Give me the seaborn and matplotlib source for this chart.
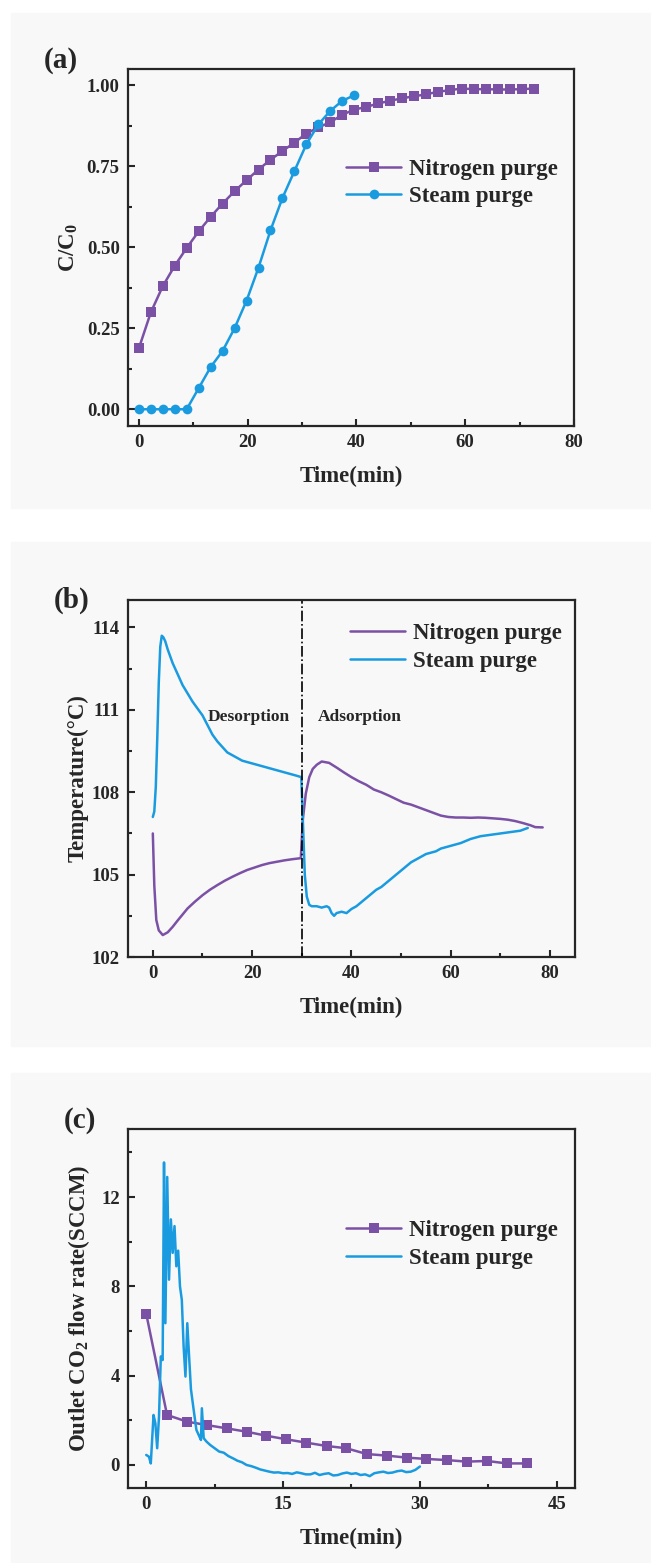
import matplotlib

matplotlib.use("Agg")
import matplotlib.pyplot as plt
import seaborn as sns
from matplotlib.patches import Rectangle
from matplotlib.ticker import AutoMinorLocator

PURPLE = "#7b51a6"
BLUE = "#1a9be0"
N2_LABEL = "Nitrogen purge"
STEAM_LABEL = "Steam purge"

# (a) breakthrough curves
a_n2_time = [0, 2.2, 4.4, 6.6, 8.8, 11, 13.2, 15.4, 17.6, 19.8, 22, 24.2, 26.4, 28.6, 30.8,
             33, 35.2, 37.4, 39.6, 41.8, 44, 46.2, 48.4, 50.6, 52.8, 55, 57.2, 59.4, 61.6,
             63.8, 66, 68.2, 70.4, 72.6]
a_n2_conc = [0.188, 0.299, 0.380, 0.443, 0.498, 0.549, 0.594, 0.635, 0.673, 0.707, 0.740,
             0.770, 0.797, 0.823, 0.851, 0.870, 0.886, 0.909, 0.925, 0.933, 0.944, 0.952,
             0.960, 0.966, 0.972, 0.980, 0.985, 0.990, 0.988, 0.988, 0.987, 0.987, 0.988, 0.990]
a_steam_time = [0, 2.2, 4.4, 6.6, 8.8, 11, 13.2, 15.4, 17.6, 19.8, 22, 24.2, 26.4, 28.6,
                30.8, 33, 35.2, 37.4, 39.6]
a_steam_conc = [0, 0, 0, 0, 0, 0.065, 0.13, 0.18, 0.25, 0.335, 0.437, 0.552, 0.652, 0.735,
                0.818, 0.879, 0.921, 0.952, 0.969]

# (b) bed temperature
b_n2_time = [0, 0.3, 0.7, 1.2, 2, 3, 4, 5, 6, 7, 8.5, 10, 11.5, 13, 14.5, 16, 17.5, 19, 20.5,
             22, 23.5, 25, 26.5, 28, 29.8, 30.2, 30.8, 31.5, 32.2, 33, 34, 35.5, 37, 38.5, 40,
             41.5, 43, 44.5, 46, 47.5, 49, 50.5, 52, 53.5, 55, 56.5, 58, 59.5, 61, 62.5, 64,
             65.5, 67, 68.5, 70, 71.5, 73, 74.5, 76, 77, 78.5]
b_n2_temp = [106.5, 104.6, 103.35, 102.97, 102.8, 102.9, 103.1, 103.33, 103.55, 103.77,
             104.02, 104.25, 104.45, 104.62, 104.78, 104.92, 105.05, 105.17, 105.26, 105.35,
             105.42, 105.47, 105.52, 105.56, 105.6, 107.0, 107.95, 108.55, 108.85, 109.0,
             109.12, 109.07, 108.9, 108.72, 108.55, 108.4, 108.27, 108.1, 108.0, 107.88,
             107.75, 107.62, 107.55, 107.45, 107.35, 107.25, 107.15, 107.1, 107.08, 107.08,
             107.07, 107.08, 107.07, 107.05, 107.03, 107.0, 106.95, 106.88, 106.8, 106.73, 106.72]
b_steam_time = [0, 0.3, 0.6, 0.9, 1.2, 1.5, 1.8, 2.1, 2.5, 3, 4, 5, 6, 7, 8, 9, 10, 11, 12,
                13, 14, 15, 16, 17, 18, 19, 20, 21, 22, 23, 24, 25, 26, 27, 28, 29, 29.9, 30.3,
                30.6, 31, 31.5, 32, 33, 34, 35, 35.5, 36, 36.5, 37, 38, 39, 40, 41, 42, 43, 44,
                45, 46, 47, 48, 49, 50, 51, 52, 53, 54, 55, 56, 57, 58, 59, 60, 62, 64, 66,
                68, 70, 72, 74, 75.5]
b_steam_temp = [107.1, 107.3, 108.2, 110.0, 112.0, 113.3, 113.7, 113.65, 113.5, 113.2,
                112.7, 112.3, 111.9, 111.6, 111.3, 111.05, 110.8, 110.45, 110.1, 109.85,
                109.65, 109.45, 109.35, 109.25, 109.15, 109.1, 109.05, 109.0, 108.95, 108.9,
                108.85, 108.8, 108.75, 108.7, 108.65, 108.6, 108.55, 106.5, 105.0, 104.2,
                103.9, 103.85, 103.85, 103.8, 103.85, 103.8, 103.6, 103.5, 103.6, 103.65,
                103.6, 103.75, 103.85, 104.0, 104.15, 104.3, 104.45, 104.55, 104.7, 104.85,
                105.0, 105.15, 105.3, 105.45, 105.55, 105.65, 105.75, 105.8, 105.85, 105.95,
                106.0, 106.05, 106.15, 106.3, 106.4, 106.45, 106.5, 106.55, 106.6, 106.7]

# (c) outlet CO2 flow
c_n2_time = [0, 2.28, 4.48, 6.62, 8.82, 11.0, 13.16, 15.35, 17.54, 19.78, 21.93, 24.17,
             26.36, 28.55, 30.7, 32.94, 35.13, 37.37, 39.5, 41.7]
c_n2_flow = [6.77, 2.24, 1.94, 1.79, 1.64, 1.49, 1.31, 1.15, 1.0, 0.85, 0.75, 0.49, 0.42,
             0.33, 0.27, 0.22, 0.15, 0.18, 0.07, 0.07]
c_steam_time = [0, 0.3, 0.5, 0.8, 1.0, 1.2, 1.4, 1.6, 1.8, 1.95, 2.1, 2.3, 2.5, 2.7, 2.9,
                3.1, 3.3, 3.5, 3.7, 3.9, 4.1, 4.3, 4.5, 4.7, 4.9, 5.2, 5.5, 5.8, 6.0, 6.1,
                6.3, 6.6, 7.0, 7.5, 8.0, 8.5, 9.0, 9.5, 10, 10.5, 11, 11.5, 12, 12.5, 13,
                13.5, 14, 14.5, 15, 15.5, 16, 16.5, 17, 17.5, 18, 18.5, 19, 19.5, 20, 20.5,
                21, 21.5, 22, 22.5, 23, 23.5, 24, 24.5, 25, 25.5, 26, 26.5, 27, 27.5, 28,
                28.5, 29, 29.5, 30]
c_steam_flow = [0.45, 0.37, 0.07, 2.24, 1.87, 0.75, 2.17, 4.86, 4.7, 13.55, 6.35, 12.9, 8.3,
                11.0, 9.5, 10.7, 8.9, 9.6, 8.0, 7.4, 5.3, 3.96, 6.35, 4.86, 3.4, 2.47, 1.57,
                1.3, 1.12, 2.54, 1.2, 1.05, 0.9, 0.75, 0.6, 0.55, 0.4, 0.3, 0.19, 0.12, 0.0,
                -0.05, -0.12, -0.2, -0.25, -0.3, -0.34, -0.33, -0.37, -0.36, -0.4, -0.33,
                -0.37, -0.42, -0.42, -0.35, -0.45, -0.4, -0.37, -0.47, -0.45, -0.38, -0.34,
                -0.4, -0.37, -0.45, -0.42, -0.5, -0.37, -0.33, -0.3, -0.36, -0.34, -0.28,
                -0.25, -0.32, -0.3, -0.22, -0.07]


def style_axes(ax, xlim, ylim, xticks, yticks, yfmt, xlabel, ylabel, ylabel_x):
    ax.set_facecolor("none")
    ax.set_xlim(*xlim)
    ax.set_ylim(*ylim)
    ax.set_xticks(xticks)
    ax.set_yticks(yticks)
    ax.set_yticklabels([yfmt.format(v) for v in yticks])
    ax.xaxis.set_minor_locator(AutoMinorLocator(2))
    ax.yaxis.set_minor_locator(AutoMinorLocator(2))
    ax.tick_params(which="both", direction="in", width=1.5, labelsize=13.5, pad=6)
    ax.tick_params(which="major", length=5)
    ax.tick_params(which="minor", length=3)
    for lab in ax.get_xticklabels() + ax.get_yticklabels():
        lab.set_fontweight("bold")
    for sp in ax.spines.values():
        sp.set_linewidth(1.6)
        sp.set_visible(True)
    ax.set_xlabel(xlabel, fontsize=16.5, fontweight="bold")
    ax.set_ylabel(ylabel, fontsize=16.5, fontweight="bold")
    ax.xaxis.set_label_coords(0.5, -0.112)
    ax.yaxis.set_label_coords(ylabel_x, 0.5)


def add_legend(ax, anchor):
    ax.legend(loc="center left", bbox_to_anchor=anchor, frameon=False,
              prop={"weight": "bold", "size": 16.5}, handlelength=2.4, handletextpad=0.35,
              labelspacing=0.3, borderpad=0, borderaxespad=0)


sns.set_style("ticks")
plt.rcParams["font.family"] = ["Liberation Serif", "DejaVu Serif"]
plt.rcParams["mathtext.fontset"] = "custom"
plt.rcParams["mathtext.rm"] = "Liberation Serif:bold"
plt.rcParams["mathtext.bf"] = "Liberation Serif:bold"

fig = plt.figure(figsize=(6.51, 15.63), dpi=100)
fig.patch.set_facecolor("white")
for y0, h in [(0.675, 0.317), (0.331, 0.322), (0.0, 0.3135)]:
    fig.patches.append(Rectangle((0.017, y0), 0.983, h, transform=fig.transFigure,
                                 color="#f8f8f8", zorder=-1))

ax_a = fig.add_axes([0.1966, 0.7274, 0.685, 0.2284])
ax_b = fig.add_axes([0.1966, 0.3877, 0.6866, 0.2284])
ax_c = fig.add_axes([0.1966, 0.0480, 0.6866, 0.2297])

# (a)
sns.lineplot(x=a_n2_time, y=a_n2_conc, ax=ax_a, color=PURPLE, marker="s", markersize=7,
             markeredgewidth=0, linewidth=1.8, errorbar=None, label=N2_LABEL)
sns.lineplot(x=a_steam_time, y=a_steam_conc, ax=ax_a, color=BLUE, marker="o", markersize=7,
             markeredgewidth=0, linewidth=1.8, errorbar=None, label=STEAM_LABEL)
style_axes(ax_a, (-2, 80), (-0.052, 1.05), [0, 20, 40, 60, 80], [0, 0.25, 0.5, 0.75, 1.0],
           "{:.2f}", "Time(min)", r"C/C$_\mathbf{0}$", -0.108)
add_legend(ax_a, (0.489, 0.681))
fig.text(61 / 651, 1 - 60 / 1563, "(a)", fontsize=21, fontweight="bold", ha="center", va="center")

# (b)
sns.lineplot(x=b_n2_time, y=b_n2_temp, ax=ax_b, color=PURPLE, linewidth=1.8,
             errorbar=None, label=N2_LABEL)
sns.lineplot(x=b_steam_time, y=b_steam_temp, ax=ax_b, color=BLUE, linewidth=1.8,
             errorbar=None, label=STEAM_LABEL)
ax_b.axvline(30, color="black", linewidth=1.2, linestyle="-.")
ax_b.text(19.4, 110.73, "Desorption", fontsize=12.5, fontweight="bold", ha="center", va="center")
ax_b.text(41.7, 110.73, "Adsorption", fontsize=12.5, fontweight="bold", ha="center", va="center")
style_axes(ax_b, (-5, 85), (102, 115), [0, 20, 40, 60, 80], [102, 105, 108, 111, 114],
           "{:d}", "Time(min)", "Temperature(°C)", -0.089)
add_legend(ax_b, (0.497, 0.868))
fig.text(72 / 651, 1 - 600 / 1563, "(b)", fontsize=21, fontweight="bold", ha="center", va="center")

# (c)
sns.lineplot(x=c_n2_time, y=c_n2_flow, ax=ax_c, color=PURPLE, marker="s", markersize=7,
             markeredgewidth=0, linewidth=1.8, errorbar=None, label=N2_LABEL)
sns.lineplot(x=c_steam_time, y=c_steam_flow, ax=ax_c, color=BLUE, linewidth=1.8,
             errorbar=None, label=STEAM_LABEL)
style_axes(ax_c, (-2, 47), (-1.03, 15.05), [0, 15, 30, 45], [0, 4, 8, 12],
           "{:d}", "Time(min)", r"Outlet CO$_\mathbf{2}$ flow rate(SCCM)", -0.081)
add_legend(ax_c, (0.488, 0.677))
fig.text(80 / 651, 1 - 1121 / 1563, "(c)", fontsize=21, fontweight="bold", ha="center", va="center")

fig.savefig("out.png", dpi=100)
